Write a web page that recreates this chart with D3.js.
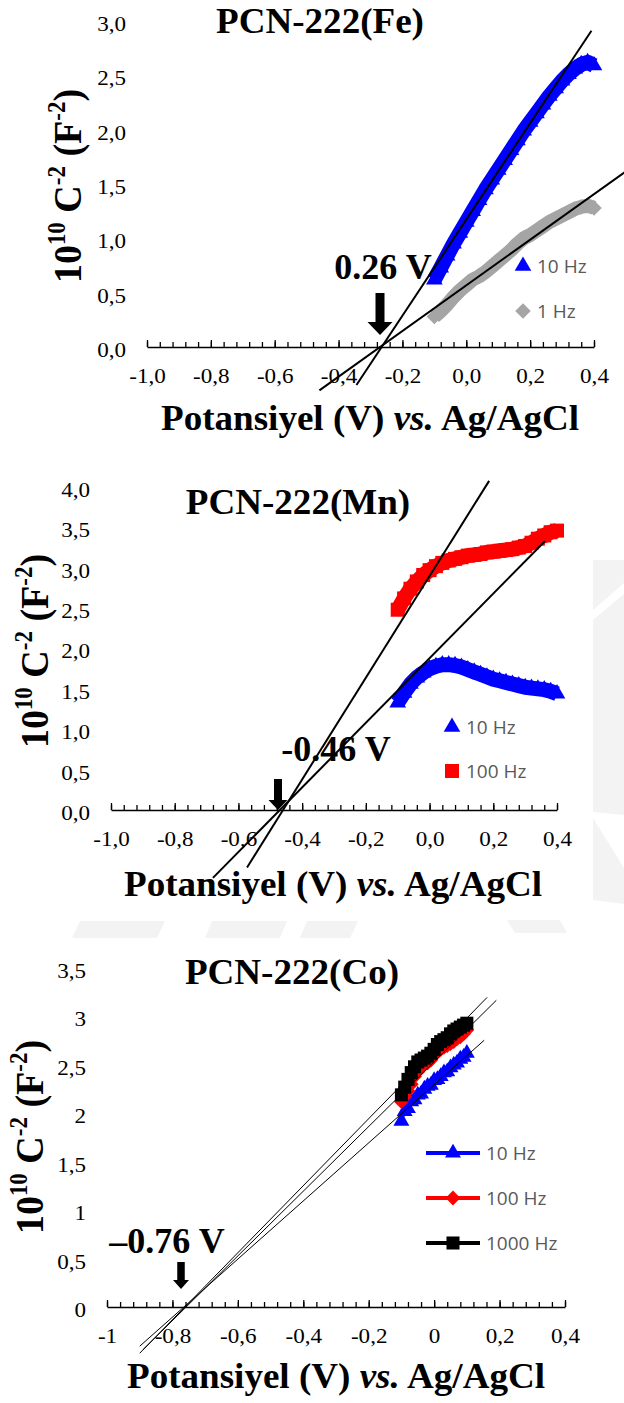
<!DOCTYPE html>
<html>
<head>
<meta charset="utf-8">
<script src="https://cdn.jsdelivr.net/npm/d3@7"></script>
<style>
  body { margin: 0; background: #fff; }
  svg { display: block; }
</style>
</head>
<body>
<div id="chart"></div>
<script>
// ---- data ----
// tick labels
var xLabelsDec = ["-1,0", "-0,8", "-0,6", "-0,4", "-0,2", "0,0", "0,2", "0,4"];
var xLabelsCo = ["-1", "-0,8", "-0,6", "-0,4", "-0,2", "0", "0,2", "0,4"];
var yLabelsFe = ["0,0", "0,5", "1,0", "1,5", "2,0", "2,5", "3,0"];
var yLabelsMn = ["0,0", "0,5", "1,0", "1,5", "2,0", "2,5", "3,0", "3,5", "4,0"];
var yLabelsCo = ["0", "0,5", "1", "1,5", "2", "2,5", "3", "3,5"];

// PCN-222(Fe)
var feVolt = [-0.10, -0.08, -0.06, -0.04, -0.02, 0.00, 0.02, 0.04, 0.06, 0.08, 0.10, 0.12, 0.14,
              0.16, 0.18, 0.20, 0.22, 0.24, 0.26, 0.28, 0.30, 0.32, 0.34, 0.36, 0.38, 0.40];
var fe10Hz = [0.62, 0.73, 0.84, 0.95, 1.05, 1.15, 1.25, 1.35, 1.45, 1.54, 1.63, 1.72, 1.81,
              1.90, 1.99, 2.07, 2.15, 2.23, 2.31, 2.38, 2.45, 2.51, 2.56, 2.60, 2.62, 2.59];
var fe1Hz = [0.28, 0.33, 0.39, 0.46, 0.52, 0.57, 0.62, 0.65, 0.69, 0.74, 0.79, 0.84, 0.89,
             0.95, 1.00, 1.03, 1.07, 1.11, 1.15, 1.18, 1.21, 1.24, 1.27, 1.29, 1.30, 1.28];
// fitted lines: slope, x-intercept, drawn from..to
var feFits = [
  {slope: 4.43, x0: -0.265, from: -0.344, to: 0.392},
  {slope: 2.10, x0: -0.270, from: -0.460, to: 0.500}
];

// PCN-222(Mn)
var mnVolt = feVolt.slice();
var mn10Hz = [1.33, 1.45, 1.56, 1.64, 1.70, 1.75, 1.78, 1.80, 1.80, 1.79, 1.77, 1.74, 1.71,
              1.68, 1.65, 1.62, 1.60, 1.58, 1.56, 1.54, 1.52, 1.51, 1.50, 1.49, 1.47, 1.44];
var mn100Hz = [2.48, 2.62, 2.74, 2.83, 2.91, 2.97, 3.02, 3.06, 3.09, 3.11, 3.13, 3.15, 3.16,
               3.17, 3.19, 3.20, 3.21, 3.22, 3.23, 3.25, 3.27, 3.31, 3.36, 3.40, 3.44, 3.46];
var mnFits = [
  {slope: 6.30, x0: -0.460, from: -0.573, to: 0.187},
  {slope: 4.00, x0: -0.470, from: -0.680, to: 0.362}
];

// PCN-222(Co)
var coVolt = [-0.10, -0.09, -0.08, -0.07, -0.06, -0.05, -0.04, -0.03, -0.02, -0.01, 0.00,
              0.01, 0.02, 0.03, 0.04, 0.05, 0.06, 0.07, 0.08, 0.09, 0.10];
var co10Hz = [1.92, 2.02, 2.05, 2.12, 2.14, 2.19, 2.20, 2.25, 2.28, 2.29, 2.34,
              2.35, 2.38, 2.42, 2.43, 2.47, 2.50, 2.52, 2.56, 2.58, 2.62];
var co100Hz = [2.12, 2.17, 2.23, 2.30, 2.38, 2.43, 2.47, 2.50, 2.52, 2.55, 2.60,
               2.63, 2.66, 2.68, 2.70, 2.72, 2.74, 2.77, 2.79, 2.82, 2.86];
var co1000Hz = [2.19, 2.27, 2.35, 2.42, 2.48, 2.53, 2.55, 2.57, 2.59, 2.62, 2.66,
                2.71, 2.74, 2.76, 2.78, 2.82, 2.85, 2.87, 2.89, 2.91, 2.93];
var coFits = [
  {slope: 3.46, x0: -0.762, from: -0.90, to: 0.162},
  {slope: 3.34, x0: -0.758, from: -0.89, to: 0.190},
  {slope: 3.00, x0: -0.765, from: -0.90, to: 0.153}
];

// ---- drawing ----
var serif = "'Times New Roman','Liberation Serif',serif";
var sans = "'Open Sans','Noto Sans',sans-serif";

var svg = d3.select("#chart").append("svg")
    .attr("width", 624)
    .attr("height", 1403);

// faint watermark of the page behind the figures
var wm = svg.append("g").attr("fill", "#f3f3f3");
[
  "M593,560L624,560L624,583L593,610Z",
  "M593,620L624,594L624,815L593,812Z",
  "M593,818L624,868L624,904L593,900Z",
  "M507,920L560,920L567,933L515,933Z",
  "M80,921L165,921L157,938L72,938Z",
  "M212,921L287,921L280,938L205,938Z",
  "M307,921L358,921L350,938L300,938Z"
].forEach(function(d) { wm.append("path").attr("d", d); });

function arrow(g, cx, top, tip, shaftW, headW, headH) {
  var p = d3.path();
  p.moveTo(cx - shaftW / 2, top);
  p.lineTo(cx + shaftW / 2, top);
  p.lineTo(cx + shaftW / 2, tip - headH);
  p.lineTo(cx + headW / 2, tip - headH);
  p.lineTo(cx, tip);
  p.lineTo(cx - headW / 2, tip - headH);
  p.lineTo(cx - shaftW / 2, tip - headH);
  p.closePath();
  g.append("path").attr("d", p.toString()).attr("fill", "#000");
}

function marker(sel, m) {
  sel.attr("d", d3.symbol(m.symbol, m.size)())
     .attr("fill", m.color);
}

function drawPanel(p) {
  var g = svg.append("g");
  var x = d3.scaleLinear().domain([-1, 0.4]).range(p.xRange);
  var y = d3.scaleLinear().domain([0, p.yMax]).range(p.yRange);

  // series (dense markers form thick bands)
  p.series.forEach(function(s) {
    var pts = s.xs.map(function(v, i) { return [x(v), y(s.ys[i])]; });
    g.append("path")
        .attr("d", d3.line()(pts))
        .attr("fill", "none")
        .attr("stroke", s.color)
        .attr("stroke-width", s.lineW)
        .attr("stroke-linejoin", "round");
    g.selectAll(null).data(pts).join("path")
        .attr("transform", function(d) { return "translate(" + d[0] + "," + d[1] + ")" + (s.rot ? " rotate(45)" : ""); })
        .call(marker, s);
  });

  // fitted straight lines
  g.selectAll(null).data(p.fits).join("path")
      .attr("d", function(f) {
        return d3.line()([[x(f.from), y(f.slope * (f.from - f.x0))],
                          [x(f.to), y(f.slope * (f.to - f.x0))]]);
      })
      .attr("fill", "none")
      .attr("stroke", "#000")
      .attr("stroke-width", p.fitW);

  // x axis at y = 0, ticks pointing up
  var minor = d3.range(36).map(function(i) { return -1 + i * 0.04; });
  var am = g.append("g").attr("transform", "translate(0," + y(0) + ")")
      .call(d3.axisBottom(x).tickValues(minor).tickSize(-5).tickSizeOuter(0).tickFormat(""));
  am.select(".domain").remove();
  am.selectAll("line").attr("stroke-width", 1.3);

  var major = p.xLabels.map(function(l, i) { return -1 + i * 0.2; });
  var ax = g.append("g").attr("transform", "translate(0," + y(0) + ")")
      .call(d3.axisBottom(x).tickValues(major).tickSize(-7).tickSizeOuter(0).tickPadding(21)
        .tickFormat(function(d, i) { return p.xLabels[i]; }));
  ax.select(".domain").attr("stroke", "#000").attr("stroke-width", 1.6);
  ax.selectAll("line").attr("stroke-width", 1.3);
  ax.selectAll("text")
      .attr("font-family", serif).attr("font-size", 21).attr("fill", "#000")
      .attr("transform", "scale(1.1,1)");

  // y labels only (no axis line)
  var ay = g.append("g").attr("transform", "translate(" + p.xRange[0] + ",0)")
      .call(d3.axisLeft(y).tickValues(p.yLabels.map(function(l, i) { return i * 0.5; }))
        .tickSize(0).tickPadding(19)
        .tickFormat(function(d, i) { return p.yLabels[i]; }));
  ay.select(".domain").remove();
  ay.selectAll("text")
      .attr("font-family", serif).attr("font-size", 21).attr("fill", "#000")
      .attr("dy", "0.45em")
      .attr("transform", "scale(1.1,1)");

  // chart title
  g.append("text")
      .attr("transform", "translate(" + p.title.x + "," + p.title.y + ") scale(1.03,1)")
      .attr("text-anchor", "middle")
      .attr("font-family", serif).attr("font-weight", "bold").attr("font-size", 36)
      .text(p.title.text);

  // x axis title
  var xt = g.append("text")
      .attr("transform", "translate(" + p.xTitle.x + "," + p.xTitle.y + ") scale(1.03,1)")
      .attr("text-anchor", "middle")
      .attr("font-family", serif).attr("font-weight", "bold").attr("font-size", 36);
  xt.append("tspan").text("Potansiyel (V) ");
  xt.append("tspan").attr("font-style", "italic").text("vs.");
  xt.append("tspan").text(" Ag/AgCl");

  // y axis title
  var yt = g.append("text")
      .attr("transform", "translate(" + p.yTitle.x + "," + p.yTitle.y + ") scale(1.08,1) rotate(-90)")
      .attr("text-anchor", "middle")
      .attr("font-family", serif).attr("font-weight", "bold").attr("font-size", 38);
  yt.append("tspan").text("10");
  yt.append("tspan").attr("font-size", 23).attr("dy", -15).text("10");
  yt.append("tspan").attr("dy", 15).text(" C");
  yt.append("tspan").attr("font-size", 23).attr("dy", -15).text("-2");
  yt.append("tspan").attr("dy", 15).text(" (F");
  yt.append("tspan").attr("font-size", 23).attr("dy", -15).text("-2");
  yt.append("tspan").attr("dy", 15).text(")");

  // intercept annotation
  g.append("text")
      .attr("transform", "translate(" + p.note.x + "," + p.note.y + ")")
      .attr("text-anchor", "middle")
      .attr("font-family", serif).attr("font-weight", "bold").attr("font-size", 36)
      .text(p.note.text);
  arrow(g, p.arrow[0], p.arrow[1], p.arrow[2], p.arrow[3], p.arrow[4], p.arrow[5]);

  // legend
  p.series.forEach(function(s, i) {
    var ly = p.legend.y + i * p.legend.dy;
    if (p.legend.line) {
      g.append("line")
          .attr("x1", p.legend.x - 27).attr("x2", p.legend.x + 27)
          .attr("y1", ly).attr("y2", ly)
          .attr("stroke", s.color).attr("stroke-width", 4);
    }
    g.append("path")
        .attr("transform", "translate(" + p.legend.x + "," + ly + ")" + (s.rot ? " rotate(45)" : ""))
        .call(marker, s);
    g.append("text")
        .attr("x", p.legend.tx).attr("y", ly + 7)
        .attr("font-family", sans).attr("font-size", 19).attr("fill", "#595959")
        .text(s.label);
  });
}

drawPanel({
  xRange: [147, 594], yRange: [347, 21], yMax: 3.0,
  xLabels: xLabelsDec, yLabels: yLabelsFe, fitW: 2,
  series: [
    {label: "10 Hz", xs: feVolt, ys: fe10Hz, color: "#0000ff", symbol: d3.symbolTriangle, size: 120, lineW: 15},
    {label: "1 Hz", xs: feVolt, ys: fe1Hz, color: "#a5a5a5", symbol: d3.symbolSquare, size: 120, rot: true, lineW: 14}
  ],
  fits: feFits,
  title: {text: "PCN-222(Fe)", x: 320, y: 33},
  xTitle: {x: 370, y: 430},
  yTitle: {x: 81, y: 186},
  note: {text: "0.26 V", x: 383, y: 279},
  arrow: [380, 293, 335, 9, 25, 13],
  legend: {x: 523, y: 266, dy: 45, tx: 537}
});

drawPanel({
  xRange: [111, 557], yRange: [810, 487], yMax: 4.0,
  xLabels: xLabelsDec, yLabels: yLabelsMn, fitW: 2,
  series: [
    {label: "10 Hz", xs: mnVolt, ys: mn10Hz, color: "#0000ff", symbol: d3.symbolTriangle, size: 120, lineW: 15},
    {label: "100 Hz", xs: mnVolt, ys: mn100Hz, color: "#ff0000", symbol: d3.symbolSquare, size: 196, lineW: 15}
  ],
  fits: mnFits,
  title: {text: "PCN-222(Mn)", x: 298, y: 514},
  xTitle: {x: 333, y: 896},
  yTitle: {x: 48, y: 651},
  note: {text: "-0.46 V", x: 336, y: 761},
  arrow: [278, 779, 810, 8, 19, 10],
  legend: {x: 452, y: 727, dy: 44, tx: 466}
});

drawPanel({
  xRange: [107, 565], yRange: [1307, 968], yMax: 3.5,
  xLabels: xLabelsCo, yLabels: yLabelsCo, fitW: 1,
  series: [
    {label: "10 Hz", xs: coVolt, ys: co10Hz, color: "#0000ff", symbol: d3.symbolTriangle, size: 110, lineW: 3},
    {label: "100 Hz", xs: coVolt, ys: co100Hz, color: "#ff0000", symbol: d3.symbolSquare, size: 110, rot: true, lineW: 3},
    {label: "1000 Hz", xs: coVolt, ys: co1000Hz, color: "#000000", symbol: d3.symbolSquare, size: 170, lineW: 3}
  ],
  fits: coFits,
  title: {text: "PCN-222(Co)", x: 292, y: 984},
  xTitle: {x: 336, y: 1388},
  yTitle: {x: 43, y: 1137},
  note: {text: "\u20130.76 V", x: 167, y: 1253},
  arrow: [181, 1262, 1289, 7.5, 16, 9],
  legend: {x: 453, y: 1153, dy: 45, tx: 486, line: true}
});
</script>
</body>
</html>
